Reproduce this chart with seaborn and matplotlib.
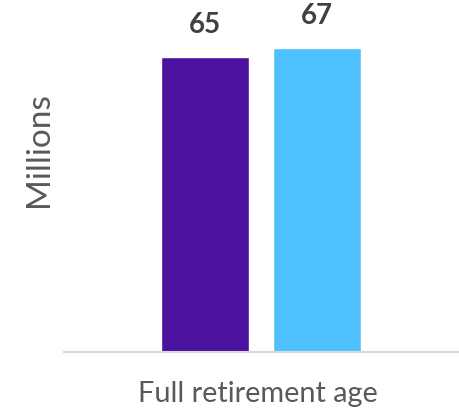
import matplotlib
matplotlib.use("Agg")
import matplotlib.pyplot as plt
import seaborn as sns
import pandas as pd

ages = ["65", "67"]
values = [65, 67]
colors = ["#4B12A0", "#4FC1FF"]
x_title = "Full retirement age"
y_title = "Millions"

sns.set_style("white")
plt.rcParams["font.family"] = ["Lato", "DejaVu Sans"]

df = pd.DataFrame({"age": ages, "value": values})

fig = plt.figure(figsize=(4.59, 4.12), dpi=100)
ax = fig.add_axes([0.1394, 0.1456, 0.8606, 0.8544])
sns.barplot(data=df, x="age", y="value", hue="age", palette=colors,
            width=0.786, legend=False, ax=ax, saturation=1)
ax.set_xlim(-1.259, 2.268)
ax.set_ylim(0, 77.6)
for i, v in enumerate(values):
    ax.text(i, v + 4.3, str(v), ha="center", va="bottom", fontsize=20,
            fontweight="bold", color="#404040")
for s in ["top", "right", "left"]:
    ax.spines[s].set_visible(False)
ax.spines["bottom"].set_color("#D9D9D9")
ax.spines["bottom"].set_linewidth(1.5)
ax.set_xticks([])
ax.set_yticks([])
ax.set_xlabel("")
ax.set_ylabel("")
fig.text(258 / 459, 1 - 394 / 412, x_title, ha="center", va="center",
         fontsize=20.8, color="#595959")
fig.text(39 / 459, 1 - 150 / 412, y_title, ha="center", va="center", rotation=90,
         fontsize=24, color="#595959")
fig.savefig("out.png", dpi=100)
